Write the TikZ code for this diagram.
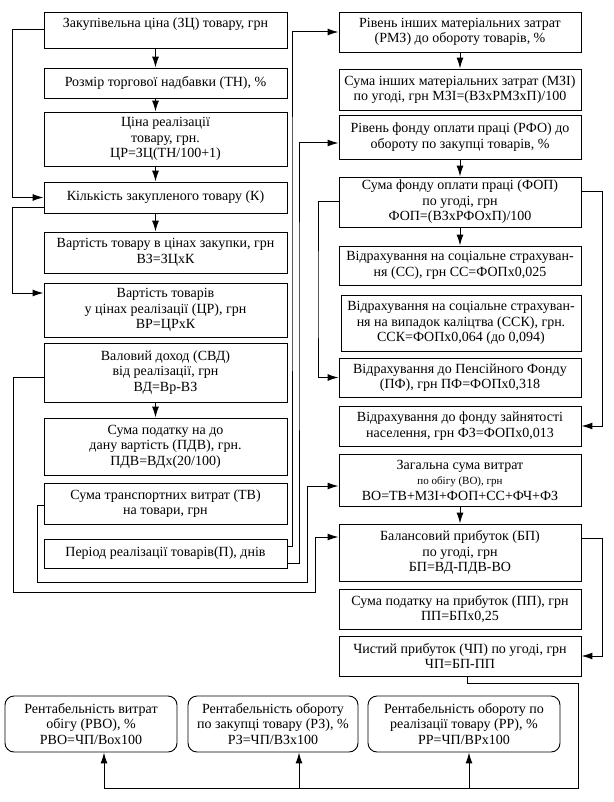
\documentclass[tikz,border=0pt]{standalone}
\usepackage{fontspec}
\setmainfont{Liberation Serif}
\usetikzlibrary{arrows.meta,calc}
\begin{document}
\begin{tikzpicture}[
        x=1pt, y=-1pt,
        font=\rmfamily\fontsize{14}{15.5}\selectfont,
        fc box/.style   ={draw, line width=0.9pt, align=center, inner sep=1pt},
        fc left/.style  ={fc box, minimum width=243pt},
        fc right/.style ={fc box, minimum width=242pt},
        fc round/.style ={fc box, rounded corners=9pt, minimum height=56pt},
        fc line/.style  ={line width=1pt},
        fc arrow/.style ={fc line, -{Latex[length=11pt,width=7pt]}}
    ]
    \useasboundingbox (0,0) rectangle (613,802);
    %% --- Left column: purchase and sale of the goods ----------------------
    \node[fc left, minimum height=36pt] (zc)  at (165.5,30)    {Закупівельна ціна (ЗЦ) товару, грн\\\mbox{}};
    \node[fc left, minimum height=30pt] (tn)  at (165.5,83)    {Розмір торгової надбавки (ТН), \%};
    \node[fc left, minimum height=54pt] (cr)  at (165.5,139)   {Ціна реалізації\\товару, грн.\\ЦР=ЗЦ(ТН/100+1)};
    \node[fc left, minimum height=31pt] (k)   at (165.5,197.5) {Кількість закупленого товару (К)};
    \node[fc left, minimum height=41pt] (vz)  at (165.5,252.5) {Вартість товару в цінах закупки, грн\\ВЗ=ЗЦхК};
    \node[fc left, minimum height=54pt] (vr)  at (165.5,310)   {Вартість товарів\\у цінах реалізації (ЦР), грн\\ВР=ЦРхК};
    \node[fc left, minimum height=59pt] (vd)  at (165.5,372.5) {Валовий доход (СВД)\\від реалізації, грн\\ВД=Вр-ВЗ};
    \node[fc left, minimum height=57pt] (pdv) at (165.5,446.5) {Сума податку на до\\дану вартість (ПДВ), грн.\\ПДВ=ВДх(20/100)};
    \node[fc left, minimum height=41pt] (tv)  at (165.5,503.5) {Сума транспортних витрат (ТВ)\\на товари, грн};
    \node[fc left, minimum height=29pt] (per) at (165.5,553.5) {Період реалізації товарів(П), днів};
    %% --- Right column: costs and profit -----------------------------------
    \node[fc right, minimum height=40pt] (rmz) at (460,32)    {Рівень інших матеріальних затрат\\(РМЗ) до обороту товарів, \%};
    \node[fc right, minimum height=41pt] (mzi) at (460,89.5)  {Сума інших матеріальних затрат (МЗІ)\\по угоді, грн МЗІ=(ВЗхРМЗхП)/100};
    \node[fc right, minimum height=44pt] (rfo) at (460,137)   {Рівень фонду оплати праці (РФО) до\\обороту по закупці товарів, \%};
    \node[fc right, minimum height=50pt] (fop) at (460,202)   {Сума фонду оплати праці (ФОП)\\по угоді, грн\\ФОП=(ВЗхРФОхП)/100};
    \node[fc right, minimum height=39pt] (ss)  at (460,265.5) {Відрахування на соціальне страхуван-\\ня (СС), грн СС=ФОПх0,025};
    \node[fc box, minimum width=240pt, minimum height=56pt] (ssk) at (461,323)
        {Відрахування на соціальне страхуван-\\ня на випадок каліцтва (ССК), грн.\\ССК=ФОПх0,064 (до 0,094)};
    \node[fc right, minimum height=39pt] (pf)  at (460,377.5) {Відрахування до Пенсійного Фонду\\(ПФ), грн ПФ=ФОПх0,318};
    \node[fc right, minimum height=40pt] (fz)  at (460,426)   {Відрахування до фонду зайнятості\\населення, грн ФЗ=ФОПх0,013};
    \node[fc right, minimum height=52pt] (vo)  at (460,480)
        {Загальна сума витрат\\{\fontsize{11}{12}\selectfont по обігу (ВО), грн}\\ВО=ТВ+МЗІ+ФОП+СС+ФЧ+ФЗ};
    \node[fc right, minimum height=57pt] (bp)  at (460,552.5) {Балансовий прибуток (БП)\\по угоді, грн\\БП=ВД-ПДВ-ВО};
    \node[fc right, minimum height=40pt] (pp)  at (460,609)   {Сума податку на прибуток (ПП), грн\\ПП=БПх0,25};
    \node[fc right, minimum height=40pt] (chp) at (460,656)   {Чистий прибуток (ЧП) по угоді, грн\\ЧП=БП-ПП};
    %% --- Bottom row: profitability --------------------------------------
    \node[fc round, minimum width=172pt] (rvo) at (91,724)  {Рентабельність витрат\\обігу (РВО), \%\\РВО=ЧП/Вох100};
    \node[fc round, minimum width=170pt] (rz)  at (273,724) {Рентабельність обороту\\по закупці товару (РЗ), \%\\РЗ=ЧП/ВЗх100};
    \node[fc round, minimum width=192pt] (rr)  at (464,724) {Рентабельність обороту по\\реалізації товару (РР), \%\\РР=ЧП/ВРх100};
    %% --- Straight arrows down the columns --------------------------------
    \foreach \a/\b in {zc/tn, tn/cr, cr/k, k/vz, vd/pdv} {
            \draw[fc arrow] ($(\a.south)+(-10,0)$) -- ($(\b.north)+(-10,0)$);
        }
    \foreach \a/\b in {rmz/mzi, rfo/fop, fop/ss, vo/bp} {
            \draw[fc arrow] (\a.south) -- (\b.north);
        }
    %% --- Loops on the left ---------------------------------------------
    \draw[fc arrow] (zc.west) -- ++(-31,0) |- (k.west);
    \draw[fc arrow] ($(k.west)+(0,10)$) -- ++(-31,0) |- ($(vr.west)+(0,-17)$);
    \draw[fc arrow] ($(vd.west)+(0,5)$) -| (13,592) -| (315,537) -- ($(bp.west)+(0,-15.5)$);
    \draw[fc arrow] ($(tv.west)+(0,1.5)$) -| (37,582) -| (307,486) -- ($(vo.west)+(0,6)$);
    %% --- Period П feeds both levels --------------------------------------
    \draw[fc arrow] ($(per.east)+(0,-7.5)$) -| (292,200) |- (rmz.west);
    \draw[fc arrow] ($(per.east)+(0,9.5)$) -| (299,300) |- ($(rfo.west)+(0,6)$);
    %% --- Loops on the right --------------------------------------------
    \draw[fc arrow] (fop.west) -| (318,300) |- (pf.west);
    \draw[fc arrow] ($(fop.east)+(0,-10)$) -| (602,300) |- (fz.east);
    \draw[fc arrow] ($(bp.east)+(0,-14.5)$) -| (602,600) |- (chp.east);
    %% --- Net profit to the three ratios ----------------------------------
    \draw[fc line] ($(chp.south)+(7,0)$) |- (578,683) |- (104,788);
    \foreach \n/\dx in {rvo/13, rz/26, rr/5} {
            \draw[fc arrow] ($(\n.south)+(\dx,36)$) -- ($(\n.south)+(\dx,0)$);
        }
\end{tikzpicture}
\end{document}
